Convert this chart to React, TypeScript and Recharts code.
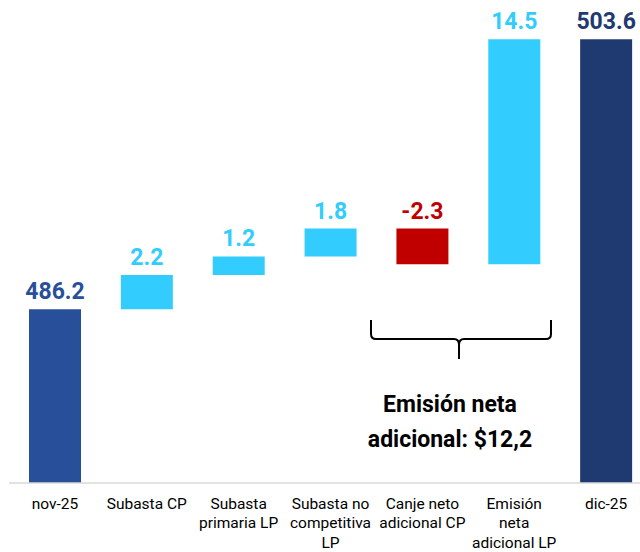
import React from 'react';
import { BarChart, Bar, XAxis, YAxis, Cell } from 'recharts';

const categories = [
  'nov-25',
  'Subasta CP',
  'Subasta primaria LP',
  'Subasta no competitiva LP',
  'Canje neto adicional CP',
  'Emisión neta adicional LP',
  'dic-25',
];
const tickLines = [
  ['nov-25'],
  ['Subasta CP'],
  ['Subasta', 'primaria LP'],
  ['Subasta no', 'competitiva', 'LP'],
  ['Canje neto', 'adicional CP'],
  ['Emisión', 'neta', 'adicional LP'],
  ['dic-25'],
];
const values = [486.2, 2.2, 1.2, 1.8, -2.3, 14.5, 503.6];
const isTotal = [true, false, false, false, false, false, true];
const valueLabels = ['486.2', '2.2', '1.2', '1.8', '-2.3', '14.5', '503.6'];

const AXIS_MIN = 475;
const AXIS_MAX = 506;

const COLORS = {
  start: '#28509A',
  end: '#1F3A70',
  up: '#33CCFF',
  down: '#C00000',
};

// waterfall: each bar is a [low, high] range
let running = 0;
const chartData = categories.map((name, i) => {
  let range: [number, number];
  if (isTotal[i]) {
    running = values[i];
    range = [AXIS_MIN, values[i]];
  } else {
    const start = running;
    running = running + values[i];
    range = [Math.min(start, running), Math.max(start, running)];
  }
  return { name, range };
});

const colorFor = (i: number) => {
  if (i === 0) return COLORS.start;
  if (i === categories.length - 1) return COLORS.end;
  return values[i] < 0 ? COLORS.down : COLORS.up;
};

const CategoryTick = (props: any) => {
  const { x, y, index } = props;
  const lines = tickLines[index] || [];
  return (
    <text x={x} y={y} textAnchor="middle" fill="#000" fontSize={15.5} fontFamily="Roboto">
      {lines.map((line, k) => (
        <tspan key={k} x={x} dy={k === 0 ? 17.5 : 19.5}>
          {line}
        </tspan>
      ))}
    </text>
  );
};

const renderValueLabel = (props: any) => {
  const { x, y, width, index } = props;
  return (
    <text
      x={x + width / 2}
      y={y - 10}
      textAnchor="middle"
      fill={colorFor(index)}
      fontSize={23}
      fontWeight={700}
      fontFamily="Roboto"
    >
      {valueLabels[index]}
    </text>
  );
};

const App: React.FC = () => {
  return (
    <div
      style={{
        position: 'absolute',
        left: 0,
        top: 0,
        width: 640,
        height: 552,
        overflow: 'hidden',
        background: '#fff',
        fontFamily: 'Roboto',
      }}
    >
      <BarChart
        width={652}
        height={552}
        data={chartData}
        margin={{ top: 2, right: 0, left: 9, bottom: 0 }}
      >
        <XAxis
          dataKey="name"
          interval={0}
          tickLine={false}
          axisLine={{ stroke: '#d9d9d9', strokeWidth: 1.5 }}
          height={69}
          tick={<CategoryTick />}
        />
        <YAxis hide domain={[AXIS_MIN, AXIS_MAX]} allowDataOverflow />
        <Bar dataKey="range" barSize={52} isAnimationActive={false} label={renderValueLabel}>
          {chartData.map((_, i) => (
            <Cell key={`cell-${i}`} fill={colorFor(i)} />
          ))}
        </Bar>
      </BarChart>
      <svg
        width={640}
        height={552}
        style={{ position: 'absolute', left: 0, top: 0, pointerEvents: 'none' }}
      >
        <path
          d="M371 320 L371 334 Q371 339 376 339 L454 339 Q459 339 459 345 L459 359 M459 345 Q459 339 464 339 L546 339 Q551 339 551 334 L551 320"
          fill="none"
          stroke="#000"
          strokeWidth={2}
        />
        <text x={450} y={412} textAnchor="middle" fontSize={23} fontWeight={700} fontFamily="Roboto" fill="#000">
          Emisión neta
        </text>
        <text x={450} y={447} textAnchor="middle" fontSize={23} fontWeight={700} fontFamily="Roboto" fill="#000">
          adicional: $12,2
        </text>
      </svg>
    </div>
  );
};

export default App;
